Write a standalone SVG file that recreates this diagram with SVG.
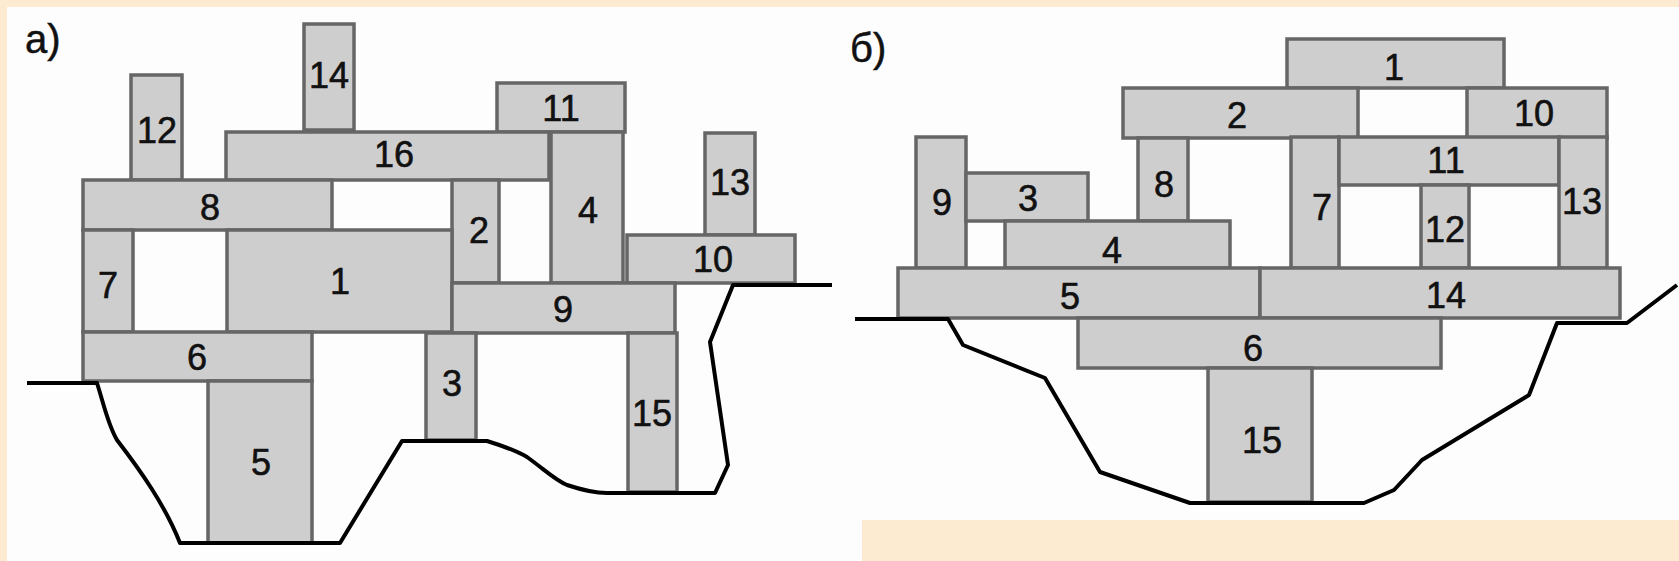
<svg xmlns="http://www.w3.org/2000/svg" width="1679" height="561" viewBox="0 0 1679 561">
<style>
.bg{fill:#fcebd0}
.paper{fill:#fdfdfd}
.blk rect{fill:#cecece;stroke:#666;stroke-width:3.5}
.blk text{font-family:"Liberation Sans",Arial,sans-serif;font-size:36px;fill:#111;stroke:#111;stroke-width:0.6;text-anchor:middle}
.lbl{font-family:"Liberation Sans",Arial,sans-serif;font-size:40px;fill:#111;stroke:#111;stroke-width:0.5}
.ground{fill:none;stroke:#000;stroke-width:4;stroke-linejoin:round}
</style>
<rect class="bg" x="0" y="0" width="1679" height="561"/>
<rect class="paper" x="7" y="7" width="1672" height="554"/>
<rect class="bg" x="862" y="520" width="817" height="41"/>

<g id="panel-a">
<text class="lbl" x="25" y="53">а)</text>
<g id="a14" class="blk"><rect x="304" y="24" width="50" height="106"/><text x="329" y="88">14</text></g>
<g id="a12" class="blk"><rect x="131" y="75" width="51" height="105"/><text x="157" y="143">12</text></g>
<g id="a11" class="blk"><rect x="497" y="83" width="128" height="49"/><text x="561" y="121">11</text></g>
<g id="a16" class="blk"><rect x="226" y="132" width="323" height="48"/><text x="394" y="167">16</text></g>
<g id="a4" class="blk"><rect x="551" y="132" width="72" height="151"/><text x="588" y="223">4</text></g>
<g id="a13" class="blk"><rect x="705" y="133" width="50" height="102"/><text x="730" y="195">13</text></g>
<g id="a8" class="blk"><rect x="83" y="180" width="249" height="50"/><text x="210" y="220">8</text></g>
<g id="a2" class="blk"><rect x="452" y="180" width="47" height="103"/><text x="479" y="243">2</text></g>
<g id="a10" class="blk"><rect x="627" y="235" width="168" height="48"/><text x="713" y="272">10</text></g>
<g id="a7" class="blk"><rect x="83" y="230" width="50" height="102"/><text x="108" y="298">7</text></g>
<g id="a1" class="blk"><rect x="227" y="230" width="225" height="102"/><text x="340" y="294">1</text></g>
<g id="a9" class="blk"><rect x="452" y="283" width="223" height="50"/><text x="563" y="322">9</text></g>
<g id="a6" class="blk"><rect x="83" y="332" width="229" height="49"/><text x="197" y="370">6</text></g>
<g id="a5" class="blk"><rect x="208" y="381" width="104" height="162"/><text x="261" y="475">5</text></g>
<g id="a3" class="blk"><rect x="426" y="333" width="50" height="107"/><text x="452" y="396">3</text></g>
<g id="a15" class="blk"><rect x="628" y="333" width="49" height="159"/><text x="652" y="426">15</text></g>
</g>

<g id="panel-b">
<text class="lbl" x="850" y="62">б)</text>
<g id="b1" class="blk"><rect x="1287" y="39" width="217" height="49"/><text x="1394" y="80">1</text></g>
<g id="b2" class="blk"><rect x="1123" y="88" width="235" height="50"/><text x="1237" y="128">2</text></g>
<g id="b10" class="blk"><rect x="1467" y="88" width="140" height="50"/><text x="1534" y="126">10</text></g>
<g id="b9" class="blk"><rect x="916" y="137" width="50" height="131"/><text x="942" y="215">9</text></g>
<g id="b8" class="blk"><rect x="1138" y="138" width="50" height="83"/><text x="1164" y="197">8</text></g>
<g id="b7" class="blk"><rect x="1291" y="137" width="48" height="131"/><text x="1322" y="220">7</text></g>
<g id="b11" class="blk"><rect x="1339" y="137" width="220" height="48"/><text x="1446" y="173">11</text></g>
<g id="b13" class="blk"><rect x="1559" y="137" width="48" height="131"/><text x="1582" y="214">13</text></g>
<g id="b3" class="blk"><rect x="966" y="173" width="122" height="48"/><text x="1028" y="211">3</text></g>
<g id="b12" class="blk"><rect x="1421" y="185" width="48" height="83"/><text x="1445" y="242">12</text></g>
<g id="b4" class="blk"><rect x="1005" y="221" width="225" height="47"/><text x="1112" y="263">4</text></g>
<g id="b5" class="blk"><rect x="898" y="268" width="362" height="50"/><text x="1070" y="309">5</text></g>
<g id="b14" class="blk"><rect x="1260" y="268" width="360" height="50"/><text x="1446" y="308">14</text></g>
<g id="b6" class="blk"><rect x="1078" y="318" width="363" height="50"/><text x="1253" y="361">6</text></g>
<g id="b15" class="blk"><rect x="1208" y="368" width="104" height="134"/><text x="1262" y="453">15</text></g>
</g>

<g id="connectors">
<path class="ground" d="M27 383 L97 383 C104 405 108 425 117 440 C140 470 165 505 180 543 L340 543 L402 441 L487 441 C500 445 515 450 527 457 C545 470 555 480 567 485 C585 491 595 493 607 493 L715 493 L728 465 L710 342 L733 285 L832 285"/>
<path class="ground" d="M855 319 L948 319 L963 345 L1045 378 L1100 472 L1190 503 L1364 503 L1394 490 L1422 460 L1529 395 L1557 323 L1627 323 L1677 285"/>
</g>
</svg>
